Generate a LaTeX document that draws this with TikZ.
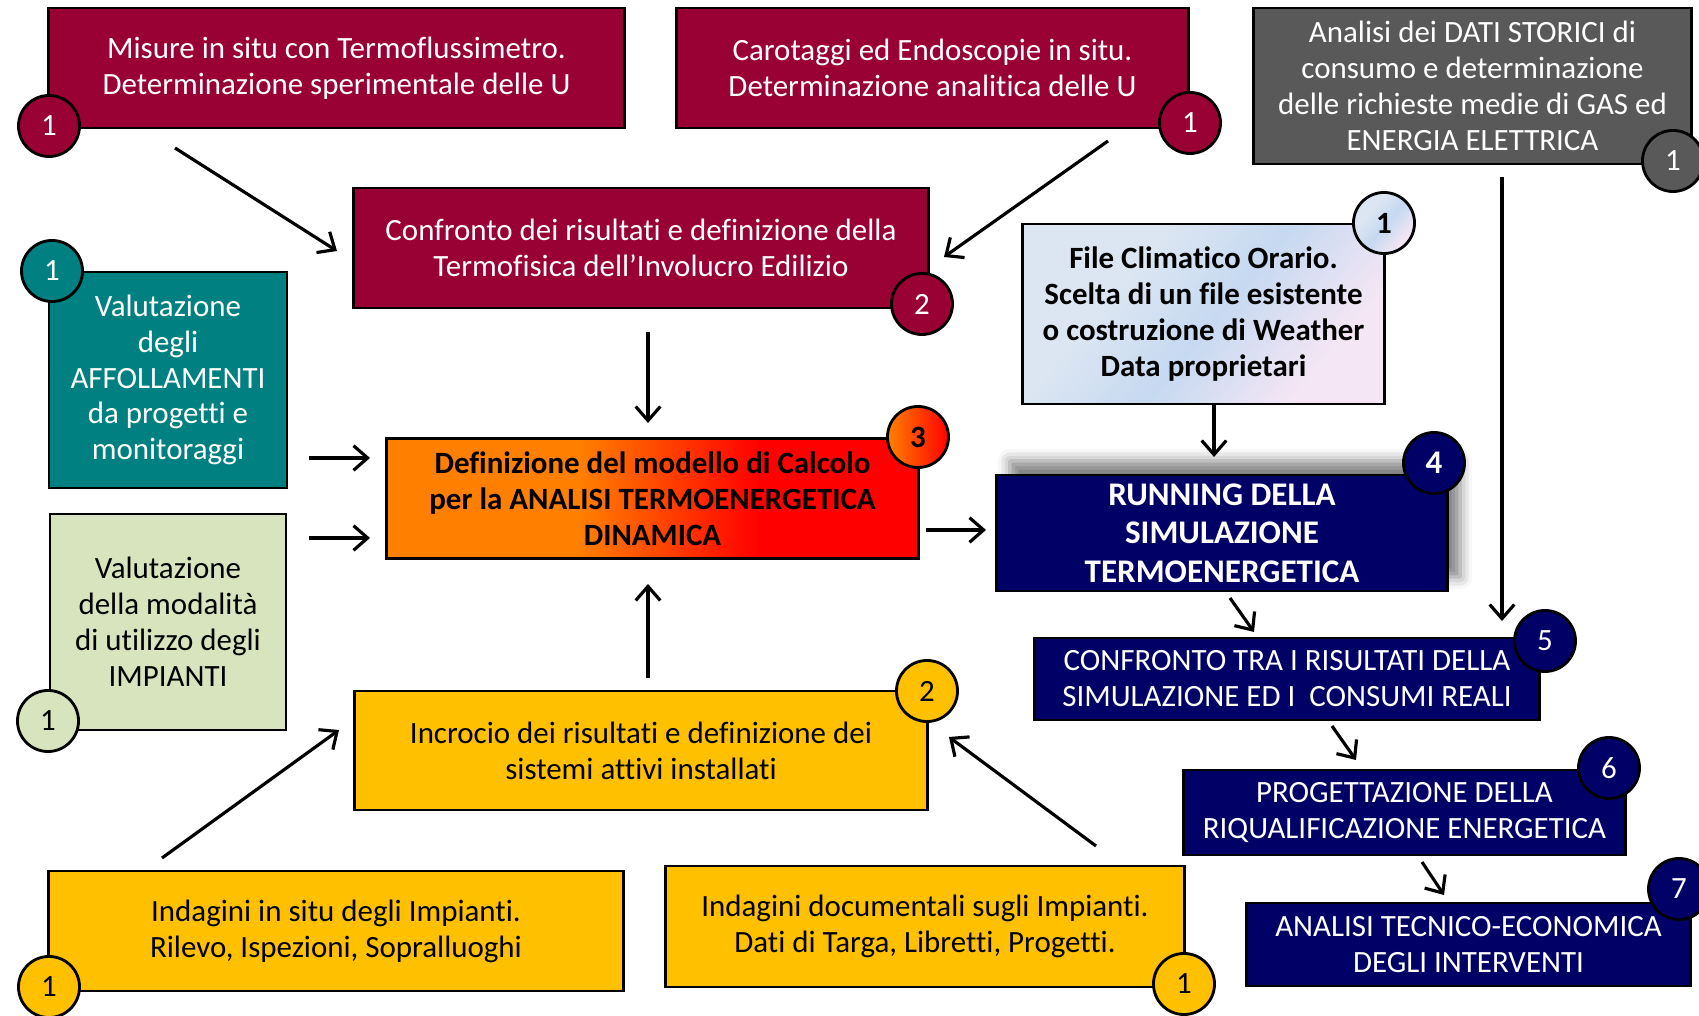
\documentclass[tikz,border=0pt]{standalone}
\usepackage{fontspec}
\setmainfont{Carlito}[Ligatures=NoCommon]
\usetikzlibrary{arrows.meta, shadows.blur}
\definecolor{flred}{HTML}{990033}
\definecolor{flgrey}{HTML}{595959}
\definecolor{flteal}{HTML}{008080}
\definecolor{flsage}{HTML}{D7E4BD}
\definecolor{flyellow}{HTML}{FFC000}
\definecolor{flnavy}{HTML}{000066}
\definecolor{florange}{HTML}{FF8000}
\definecolor{flscarlet}{HTML}{FF0000}
\definecolor{flice}{HTML}{DCE6F2}
\definecolor{flsky}{HTML}{C6D9F1}
\definecolor{flpink}{HTML}{F4E6F4}
\pgfdeclarehorizontalshading{flmodel}{100bp}{color(0bp)=(florange); color(43bp)=(florange); color(60bp)=(flscarlet); color(100bp)=(flscarlet)}
\pgfdeclarehorizontalshading{flclimate}{100bp}{color(0bp)=(flice); color(35bp)=(flice); color(52bp)=(flsky); color(72bp)=(flpink); color(100bp)=(flpink)}

\begin{document}
\begin{tikzpicture}[x=0.01cm, y=-0.01cm,
    box/.style={draw=black, line width=0.8pt, align=center, inner sep=0pt, font=\fontsize{8.8}{10.2}\selectfont},
    redbox/.style={box, fill=flred, text=white},
    navybox/.style={box, fill=flnavy, text=white},
    yellowbox/.style={box, fill=flyellow},
    num/.style={circle, draw=black, line width=0.8pt, minimum size=0.61cm, inner sep=0pt, font=\fontsize{8.8}{10.2}\selectfont},
    arr/.style={-{Straight Barb[length=4pt, width=7pt]}, line width=0.9pt}]
  \useasboundingbox (0,0) rectangle (1699,1016);

  % boxes
  \node[redbox, minimum width=5.75cm, minimum height=1.2cm] (misure) at (336.5,68)
    {Misure in situ con Termoflussimetro.\\Determinazione sperimentale delle U};
  \node[redbox, minimum width=5.11cm, minimum height=1.2cm] (carot) at (932.5,68)
    {Carotaggi ed Endoscopie in situ.\\Determinazione analitica delle U};
  \node[box, fill=flgrey, text=white, minimum width=4.37cm, minimum height=1.56cm] (storici) at (1472.5,86)
    {Analisi dei DATI STORICI di\\consumo e determinazione\\delle richieste medie di GAS ed\\ENERGIA ELETTRICA};
  \node[redbox, minimum width=5.74cm, minimum height=1.2cm] (termofisica) at (641,248)
    {Confronto dei risultati e definizione della\\Termofisica dell’Involucro Edilizio};
  \node[box, fill=flteal, text=white, minimum width=2.38cm, minimum height=2.16cm] (affoll) at (168,380)
    {Valutazione\\degli\\AFFOLLAMENTI\\da progetti e\\monitoraggi};
  \node[box, shading=flclimate, shading angle=-40, font=\fontsize{8.8}{10.2}\selectfont\bfseries,
    minimum width=3.61cm, minimum height=1.8cm] (climat) at (1203.5,314)
    {File Climatico Orario.\\Scelta di un file esistente\\o costruzione di Weather\\Data proprietari};
  \node[box, shading=flmodel, font=\fontsize{8.8}{10.2}\selectfont\bfseries,
    minimum width=5.31cm, minimum height=1.2cm] (modello) at (652.5,498.5)
    {Definizione del modello di Calcolo\\per la ANALISI TERMOENERGETICA\\DINAMICA};
  \node[box, fill=flsage, minimum width=2.36cm, minimum height=2.16cm] (impianti) at (168,622)
    {Valutazione\\della modalità\\di utilizzo degli\\IMPIANTI};
  \node[navybox, font=\fontsize{9.4}{10.9}\selectfont\bfseries, minimum width=4.5cm, minimum height=1.16cm,
    blur shadow={shadow xshift=0.13cm, shadow yshift=0.14cm, shadow blur radius=0.12cm, shadow opacity=50}]
    (running) at (1222,533) {RUNNING DELLA\\SIMULAZIONE\\TERMOENERGETICA};
  \node[yellowbox, minimum width=5.72cm, minimum height=1.19cm] (incrocio) at (641,750.5)
    {Incrocio dei risultati e definizione dei\\sistemi attivi installati};
  \node[navybox, minimum width=5.04cm, minimum height=0.82cm] (confronto) at (1287,679)
    {CONFRONTO TRA I RISULTATI DELLA\\SIMULAZIONE ED I\ \ CONSUMI REALI};
  \node[navybox, minimum width=4.41cm, minimum height=0.85cm] (progetto) at (1404.5,812.5)
    {PROGETTAZIONE DELLA\\RIQUALIFICAZIONE ENERGETICA};
  \node[navybox, minimum width=4.43cm, minimum height=0.83cm] (analisi) at (1468.5,944.5)
    {ANALISI TECNICO-ECONOMICA\\DEGLI INTERVENTI};
  \node[yellowbox, minimum width=5.74cm, minimum height=1.2cm] (insitu) at (336,931)
    {Indagini in situ degli Impianti.\\Rilevo, Ispezioni, Sopralluoghi};
  \node[yellowbox, minimum width=5.18cm, minimum height=1.21cm] (docum) at (925,926.5)
    {Indagini documentali sugli Impianti.\\Dati di Targa, Libretti, Progetti.};

  % step numbers
  \node[num, fill=flred, text=white] (n-misure) at (49,126) {1};
  \node[num, fill=flred, text=white] (n-carot) at (1190,123) {1};
  \node[num, fill=flgrey, text=white] (n-storici) at (1673,161) {1};
  \node[num, fill=flred, text=white] (n-termofisica) at (922,304) {2};
  \node[num, fill=flteal, text=white] (n-affoll) at (52,271) {1};
  \node[num, shading=flclimate, shading angle=-40, font=\fontsize{8.8}{10.2}\selectfont\bfseries] (n-climat) at (1384,223) {1};
  \node[num, left color=florange, right color=flscarlet, font=\fontsize{8.8}{10.2}\selectfont\bfseries] (n-modello) at (918,437) {3};
  \node[num, fill=flsage] (n-impianti) at (48,721) {1};
  \node[num, fill=flnavy, text=white, font=\fontsize{9.4}{10.9}\selectfont\bfseries] (n-running) at (1434,463) {4};
  \node[num, fill=flyellow] (n-incrocio) at (927,691) {2};
  \node[num, fill=flnavy, text=white] (n-confronto) at (1545,641) {5};
  \node[num, fill=flnavy, text=white] (n-progetto) at (1609,768) {6};
  \node[num, fill=flnavy, text=white] (n-analisi) at (1679,889) {7};
  \node[num, fill=flyellow] (n-insitu) at (49,987) {1};
  \node[num, fill=flyellow] (n-docum) at (1184,984) {1};

  % arrow ends
  \coordinate (misure-out) at (175,148);
  \coordinate (termo-in1) at (337,251);
  \coordinate (carot-out) at (1108,141);
  \coordinate (termo-in2) at (944,257);
  \coordinate (termo-out) at (648,332);
  \coordinate (modello-in1) at (648,423);
  \coordinate (affoll-out) at (309,458);
  \coordinate (modello-in2) at (370,458);
  \coordinate (impianti-out) at (309,538);
  \coordinate (modello-in3) at (370,538);
  \coordinate (incrocio-out) at (648,678);
  \coordinate (modello-in4) at (648,584);
  \coordinate (modello-out) at (926,530);
  \coordinate (running-in1) at (986,530);
  \coordinate (climat-out) at (1214,403);
  \coordinate (running-in2) at (1214,457);
  \coordinate (storici-out) at (1502,177);
  \coordinate (confronto-in1) at (1502,621);
  \coordinate (running-out) at (1230,598);
  \coordinate (confronto-in2) at (1254,632);
  \coordinate (confronto-out) at (1332,726);
  \coordinate (progetto-in) at (1356,760);
  \coordinate (progetto-out) at (1422,862);
  \coordinate (analisi-in) at (1444,895);
  \coordinate (insitu-out) at (162,858);
  \coordinate (incrocio-in1) at (339,730);
  \coordinate (docum-out) at (1096,846);
  \coordinate (incrocio-in2) at (949,737);

  % arrows
  \draw[arr] (misure-out) -- (termo-in1);
  \draw[arr] (carot-out) -- (termo-in2);
  \draw[arr] (termo-out) -- (modello-in1);
  \draw[arr] (affoll-out) -- (modello-in2);
  \draw[arr] (impianti-out) -- (modello-in3);
  \draw[arr] (incrocio-out) -- (modello-in4);
  \draw[arr] (modello-out) -- (running-in1);
  \draw[arr] (climat-out) -- (running-in2);
  \draw[arr] (storici-out) -- (confronto-in1);
  \draw[arr] (running-out) -- (confronto-in2);
  \draw[arr] (confronto-out) -- (progetto-in);
  \draw[arr] (progetto-out) -- (analisi-in);
  \draw[arr] (insitu-out) -- (incrocio-in1);
  \draw[arr] (docum-out) -- (incrocio-in2);
\end{tikzpicture}
\end{document}
